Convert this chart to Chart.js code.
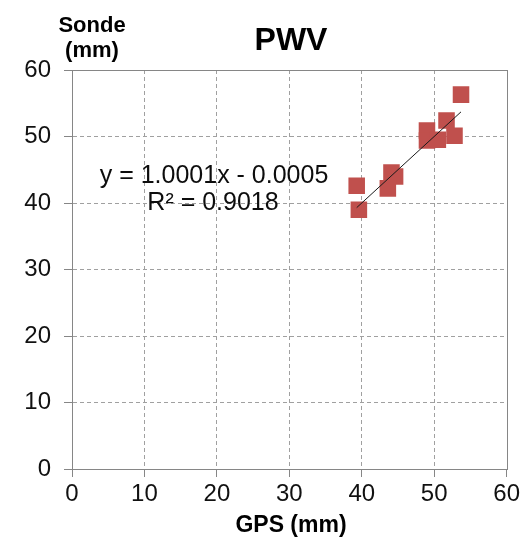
<!DOCTYPE html>
<html>
<head>
<meta charset="utf-8">
<title>PWV</title>
<script src="https://cdn.jsdelivr.net/npm/chart.js@4/dist/chart.umd.min.js"></script>
<style>
  html, body { margin: 0; padding: 0; background: #ffffff; }
  #wrap { width: 523px; height: 537px; }
</style>
</head>
<body>
<div id="wrap"><canvas id="chart" width="523" height="537"></canvas></div>
<script>
// Precipitable water vapour: GPS estimate vs radiosonde (mm)
const gpsValues   = [53.7, 51.7, 52.8, 49.0, 49.0, 50.5, 44.1, 44.6, 43.6, 39.3, 39.6];
const sondeValues = [56.3, 52.4, 50.1, 50.9, 49.4, 49.5, 44.6, 44.0, 42.2, 42.6, 39.0];

// Linear fit reported on the chart
const fitSlope = 1.0001;
const fitIntercept = -0.0005;
const fitR2 = 0.9018;

// Axis ticks
const axisTicks = [0, 10, 20, 30, 40, 50, 60];

const FONT = '"Liberation Sans", Arial, Helvetica, sans-serif';

const points = gpsValues.map((g, i) => ({ x: g, y: sondeValues[i] }));
const fitX0 = Math.min(...gpsValues);
const fitX1 = Math.max(...gpsValues);
const fitLine = [fitX0, fitX1].map(x => ({ x: x, y: fitSlope * x + fitIntercept }));

const tickMin = axisTicks[0];
const tickMax = axisTicks[axisTicks.length - 1];
const tickStep = axisTicks[1] - axisTicks[0];

const gridColor = ctx => {
  const v = ctx.tick ? ctx.tick.value : null;
  return (v === tickMin || v === tickMax) ? 'rgba(0,0,0,0)' : '#a0a0a0';
};

// Solid frame around the plot area
const frame = {
  id: 'frame',
  beforeDatasetsDraw(chart) {
    const { ctx, chartArea: a } = chart;
    ctx.save();
    ctx.strokeStyle = '#868686';
    ctx.lineWidth = 1;
    ctx.strokeRect(Math.round(a.left) + 0.5, Math.round(a.top) + 0.5,
                   Math.round(a.right - a.left), Math.round(a.bottom - a.top));
    ctx.restore();
  }
};

// Title, axis titles and fit equation
const labels = {
  id: 'labels',
  afterDraw(chart) {
    const { ctx } = chart;
    ctx.save();
    ctx.fillStyle = '#000000';
    ctx.textAlign = 'center';
    ctx.textBaseline = 'alphabetic';

    ctx.font = 'bold 32px ' + FONT;
    ctx.fillText('PWV', 291, 50);

    ctx.font = 'bold 22px ' + FONT;
    ctx.fillText('Sonde', 92, 32);
    ctx.fillText('(mm)', 92, 57);

    ctx.font = 'bold 23px ' + FONT;
    ctx.fillText('GPS (mm)', 291, 532);

    const sign = fitIntercept < 0 ? ' - ' : ' + ';
    ctx.fillStyle = '#0d0d0d';
    ctx.font = '25px ' + FONT;
    ctx.fillText('y = ' + fitSlope.toFixed(4) + 'x' + sign + Math.abs(fitIntercept).toFixed(4), 214, 183);
    ctx.fillText('R\u00B2 = ' + fitR2.toFixed(4), 213, 210);
    ctx.restore();
  }
};

new Chart(document.getElementById('chart'), {
  type: 'scatter',
  data: {
    datasets: [
      {
        label: 'Linear fit',
        type: 'line',
        data: fitLine,
        borderColor: '#1a1a1a',
        borderWidth: 1,
        pointRadius: 0,
        fill: false,
        order: 0
      },
      {
        label: 'PWV',
        data: points,
        pointStyle: 'rect',
        pointRadius: 11.7,
        pointHoverRadius: 11.7,
        backgroundColor: '#c0504d',
        borderWidth: 0,
        order: 1
      }
    ]
  },
  options: {
    responsive: false,
    animation: false,
    devicePixelRatio: 1,
    layout: { padding: { top: 70, right: 16, left: 0, bottom: 0 } },
    plugins: {
      legend: { display: false },
      tooltip: { enabled: false },
      title: { display: false }
    },
    scales: {
      x: {
        type: 'linear',
        min: tickMin,
        max: tickMax,
        afterFit(scale) { scale.height = 68; },
        ticks: {
          stepSize: tickStep,
          color: '#111111',
          font: { family: FONT, size: 24 },
          padding: 3,
          maxRotation: 0
        },
        grid: {
          color: gridColor,
          lineWidth: 1,
          tickLength: 8,
          tickColor: '#868686',
          drawTicks: true
        },
        border: { display: true, color: '#868686', width: 1, dash: [4, 3] }
      },
      y: {
        type: 'linear',
        min: tickMin,
        max: tickMax,
        afterFit(scale) { scale.width = 72; },
        ticks: {
          stepSize: tickStep,
          color: '#111111',
          font: { family: FONT, size: 24 },
          padding: 13
        },
        grid: {
          color: gridColor,
          lineWidth: 1,
          tickLength: 8,
          tickColor: '#868686',
          drawTicks: true
        },
        border: { display: true, color: '#868686', width: 1, dash: [4, 3] }
      }
    }
  },
  plugins: [frame, labels]
});
</script>
</body>
</html>
